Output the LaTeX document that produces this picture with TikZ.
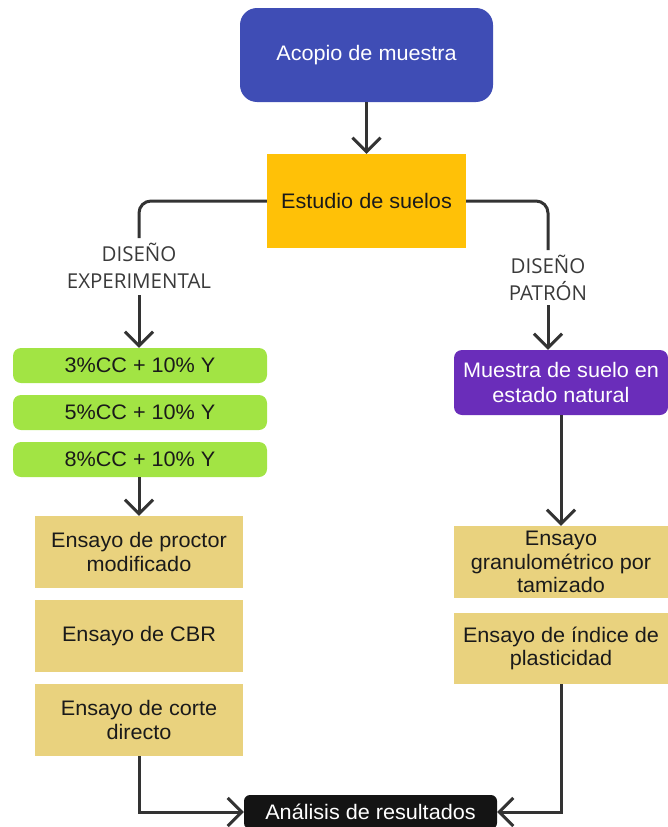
\documentclass[tikz,border=0pt]{standalone}
\usepackage{fontspec}
\setmainfont{Liberation Sans}[FakeStretch=1.03]
\newfontfamily\lblfont{Open Sans}
\usetikzlibrary{arrows.meta}
\definecolor{cblue}{HTML}{3F4DB5}
\definecolor{camber}{HTML}{FFC107}
\definecolor{cgreen}{HTML}{A2E444}
\definecolor{cpurple}{HTML}{6A2DBA}
\definecolor{ctan}{HTML}{E9D27E}
\definecolor{cblack}{HTML}{141414}
\definecolor{linec}{HTML}{333333}
\definecolor{textc}{HTML}{1A1A1A}
\definecolor{lblc}{HTML}{3A3A3A}
\begin{document}
\begin{tikzpicture}[x=1pt,y=-1pt,
  box/.style={inner sep=0pt, align=center, font=\fontsize{21}{23.5}\selectfont, text=textc},
  greenbox/.style={box, fill=cgreen, rounded corners=8pt, minimum width=254pt, minimum height=35pt},
  tanbox/.style={box, fill=ctan, minimum height=72pt},
  lbl/.style={inner sep=0pt, align=center, font=\lblfont\fontsize{20.5}{27}\selectfont, text=lblc},
  conn/.style={draw=linec, line width=3pt},
  tip/.style={-{Straight Barb[length=14pt,width=28pt]}}]
\useasboundingbox (0,0) rectangle (668,827);

\node[box, fill=cblue, rounded corners=17pt, minimum width=253pt, minimum height=94pt, text=white] (acopio) at (366.5,55) {Acopio de muestra};
\node[box, fill=camber, minimum width=199pt, minimum height=94pt] (estudio) at (366.5,201) {Estudio de suelos};

\node[greenbox] (g1) at (140,365.5) {3\%CC + 10\% Y};
\node[greenbox] (g2) at (140,412.5) {5\%CC + 10\% Y};
\node[greenbox] (g3) at (140,459.5) {8\%CC + 10\% Y};

\node[tanbox, minimum width=208pt] (proctor) at (139,552) {Ensayo de proctor\\modificado};
\node[tanbox, minimum width=208pt] (cbr) at (139,636) {Ensayo de CBR};
\node[tanbox, minimum width=208pt] (corte) at (139,720) {Ensayo de corte\\directo};

\node[box, fill=cpurple, rounded corners=8pt, minimum width=214pt, minimum height=65pt, text=white, font=\fontsize{21}{25}\selectfont] (natural) at (561,382.5) {Muestra de suelo en\\estado natural};
\node[tanbox, minimum width=214pt] (granulo) at (561,562) {Ensayo\\granulométrico por\\tamizado};
\node[tanbox, minimum width=214pt, minimum height=71pt] (plast) at (561,648.5) {Ensayo de índice de\\plasticidad};

\node[box, fill=cblack, rounded corners=6pt, minimum width=253pt, minimum height=34pt, text=white] (analisis) at (370.5,812) {Análisis de resultados};

\node[lbl] (lblL) at (139,265.5) {DISEÑO\\EXPERIMENTAL};
\node[lbl] (lblR) at (548,277.5) {DISEÑO\\PATRÓN};

\coordinate (lA) at (139,238);
\coordinate (lB) at (139,295);
\coordinate (rA) at (548,250);
\coordinate (rB) at (548,305);

\draw[conn, tip] (acopio.south) -- (estudio.north);
\draw[conn, rounded corners=12pt] (estudio.west) -| (lA);
\draw[conn, tip] (lB) -- (lB |- g1.north);
\draw[conn, rounded corners=12pt] (estudio.east) -| (rA);
\draw[conn, tip] (rB) -- (rB |- natural.north);
\draw[conn, tip] (proctor.north |- g3.south) -- (proctor.north);
\draw[conn, tip] (natural.south) -- (granulo.north);
\draw[conn, tip] (corte.south) |- (analisis.west);
\draw[conn, tip] (plast.south) |- (analisis.east);
\end{tikzpicture}
\end{document}
